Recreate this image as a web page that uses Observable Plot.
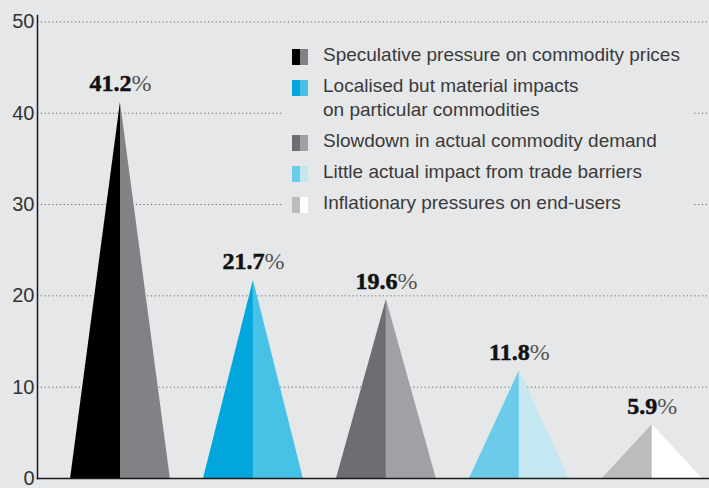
<!DOCTYPE html>
<html><head><meta charset="utf-8">
<script src="https://cdn.jsdelivr.net/npm/d3@7"></script>
<script src="https://cdn.jsdelivr.net/npm/@observablehq/plot@0.6"></script>
<style>
html,body{margin:0;padding:0;background:#e6e7e8;}
#wrap{position:relative;width:709px;height:488px;overflow:hidden;background:#e6e7e8;}
#wrap svg{display:block;}
#legend{position:absolute;left:283px;top:43px;width:401px;padding:0 0 6px 9px;background:#e6e7e8;
  font-family:"Liberation Sans",Arial,sans-serif;font-size:19px;line-height:24px;color:#3a3a3a;}
.item{display:flex;align-items:flex-start;margin-bottom:7px;}
.sw{display:flex;width:16px;height:16px;margin-top:6px;margin-right:15px;flex:none;}
.sw span{width:8px;height:16px;display:block;}
</style>
</head><body>
<div id="wrap"><div id="legend"></div></div>
<script>
const categories = [
  "Speculative pressure on commodity prices",
  "Localised but material impacts\non particular commodities",
  "Slowdown in actual commodity demand",
  "Little actual impact from trade barriers",
  "Inflationary pressures on end-users"
];
const values = [41.2, 21.7, 19.6, 11.8, 5.9];
const leftColors = ["#000000", "#00a6dc", "#6d6e71", "#6dcbea", "#bcbcbe"];
const rightColors = ["#808285", "#45c2e6", "#a0a1a4", "#c4e7f2", "#ffffff"];
const yTicks = [0, 10, 20, 30, 40, 50];

const half = 0.375;
const rows = [];
values.forEach((v, i) => {
  rows.push({x: i - half, y: 0, z: "L" + i, c: leftColors[i]}, {x: i, y: v, z: "L" + i, c: leftColors[i]});
  rows.push({x: i, y: v, z: "R" + i, c: rightColors[i]}, {x: i + half, y: 0, z: "R" + i, c: rightColors[i]});
});

const chart = Plot.plot({
  width: 709, height: 488,
  marginLeft: 37, marginRight: 0, marginTop: 15, marginBottom: 10,
  style: {background: "transparent", overflow: "visible"},
  x: {domain: [-0.624, 4.43], axis: null},
  y: {domain: [0, 50.7], axis: null},
  color: {type: "identity"},
  marks: [
    Plot.gridY(yTicks.filter(d => d > 0), {stroke: "#6a6a6a", strokeOpacity: 1, strokeWidth: 1, strokeDasharray: "1.2,2.6"}),
    Plot.areaY(rows, {x: "x", y1: 0, y2: "y", z: "z", fill: "c", curve: "linear"}),
    Plot.frame({anchor: "bottom", stroke: "#1a1a1a", strokeWidth: 1.5}),
    Plot.frame({anchor: "left", stroke: "#1a1a1a", strokeWidth: 1.5}),
    Plot.axisY(yTicks, {tickSize: 0, tickPadding: 3, fontSize: 20, fill: "#333", fontFamily: "Liberation Sans, Arial, sans-serif", label: null}),
    Plot.text(values, {x: (d, i) => i, y: d => d, text: d => d.toFixed(1) + "%", dy: -11, lineAnchor: "bottom",
      fontSize: 24, fill: "#111", className: "peak-labels"})
  ]
});
document.getElementById("wrap").prepend(chart);

d3.select(chart).selectAll(".peak-labels text").each(function() {
  const t = this.textContent;
  const num = t.replace("%", "");
  const sel = d3.select(this);
  sel.style("font-family", "'Liberation Serif', 'DejaVu Serif', serif");
  sel.text(null);
  sel.append("tspan").style("font-family", "'Liberation Serif', 'DejaVu Serif', serif")
    .attr("font-weight", "bold").attr("stroke", "#111").attr("stroke-width", 0.5).text(num);
  sel.append("tspan").style("font-family", "'Liberation Serif', 'DejaVu Serif', serif")
    .attr("font-weight", "normal").attr("fill", "#555").attr("stroke", "none").text("%");
});

const legend = d3.select("#legend");
categories.forEach((c, i) => {
  const it = legend.append("div").attr("class", "item");
  const sw = it.append("div").attr("class", "sw");
  sw.append("span").style("background", leftColors[i]);
  sw.append("span").style("background", rightColors[i]);
  it.append("div").html(c.split("\n").join("<br>"));
});
</script>
</body></html>
